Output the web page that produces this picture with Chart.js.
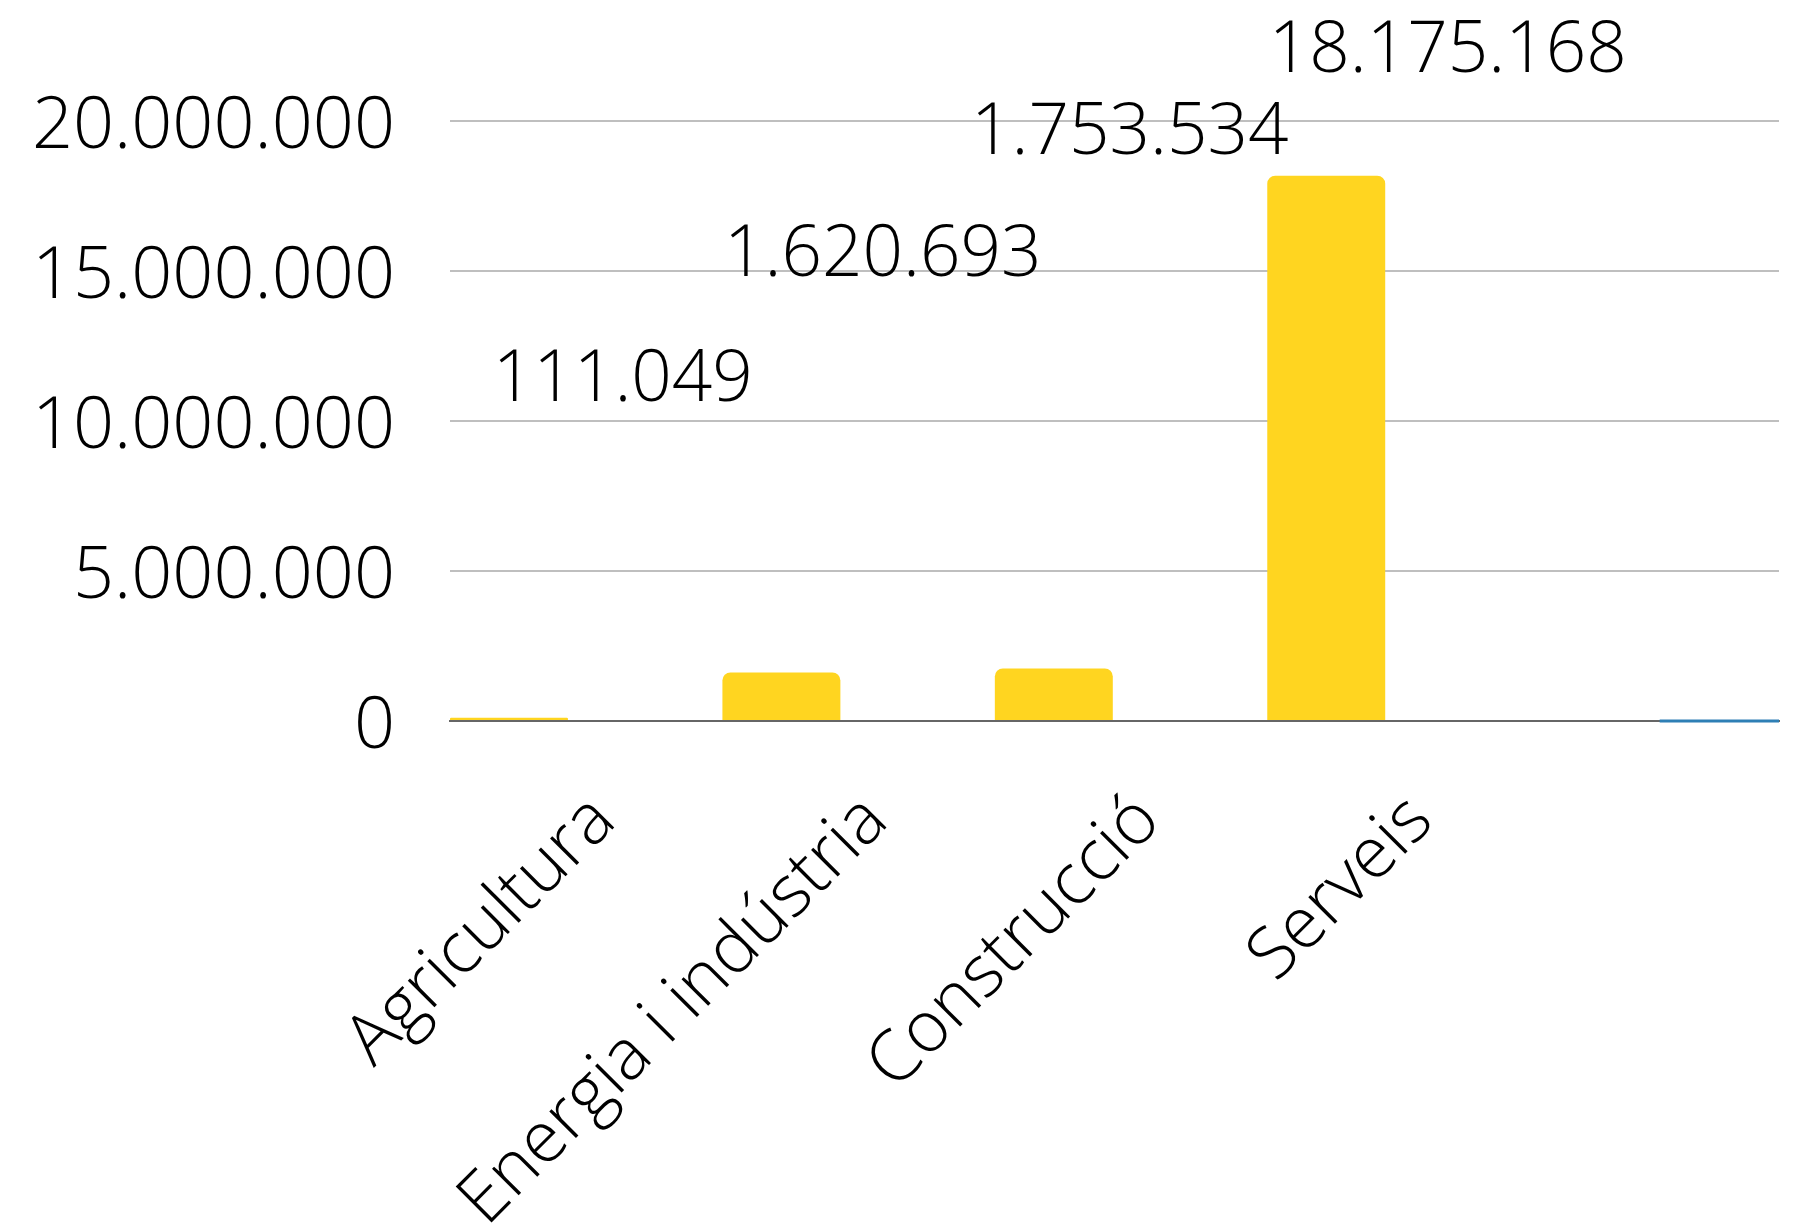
<!DOCTYPE html>
<html lang="ca">
<head>
<meta charset="utf-8">
<title>Sectors</title>
<script src="https://cdn.jsdelivr.net/npm/chart.js@4.4.1/dist/chart.umd.min.js"></script>
<style>
  html, body { margin: 0; padding: 0; background: #ffffff; }
  #wrap { width: 1795px; height: 1226px; position: relative; }
</style>
</head>
<body>
<div id="wrap"><canvas id="chart-sectors"></canvas></div>
<script>
// Dades
const categories = ['Agricultura', 'Energia i indústria', 'Construcció', 'Serveis'];
const values = [111049, 1620693, 1753534, 18175168];
const yTicks = [0, 5000000, 10000000, 15000000, 20000000];

// small blue segment sitting on the baseline at the right end
const blueSegment = [{ x: 4.224, y: 0 }, { x: 4.662, y: 0 }];

// where the value labels float (category units / value units)
const labelAtX = [0.418, 1.372, 2.279, 3.446];
const labelAtY = [11330000, 15500000, 19560000, 22300000];

const colors = {
  bar: '#FFD520',
  grid: '#BFBFBF',
  axis: '#666666',
  blue: '#2E7FB5',
  text: '#000000'
};

const FONT = '"Open Sans", "Noto Sans", sans-serif';

function formatCat(v) {
  return String(Math.round(v)).replace(/\B(?=(\d{3})+(?!\d))/g, '.');
}

// draws the floating value labels
const valueLabels = {
  id: 'valueLabels',
  afterDatasetsDraw(chart) {
    const ctx = chart.ctx;
    const xs = chart.scales.x;
    const ys = chart.scales.y;
    ctx.save();
    ctx.font = '300 71px ' + FONT;
    ctx.fillStyle = colors.text;
    ctx.textAlign = 'center';
    ctx.textBaseline = 'middle';
    values.forEach(function(v, i) {
      ctx.fillText(formatCat(v), xs.getPixelForValue(labelAtX[i]), ys.getPixelForValue(labelAtY[i]));
    });
    ctx.restore();
  }
};

function initChart() {
  const ctx = document.getElementById('chart-sectors');

  new Chart(ctx, {
    data: {
      datasets: [
        {
          type: 'bar',
          label: 'Sectors',
          data: values.map(function(v, i) { return { x: i, y: v }; }),
          backgroundColor: colors.bar,
          borderWidth: 0,
          borderRadius: 8,
          categoryPercentage: 1,
          barPercentage: 0.433,
          order: 2
        },
        {
          type: 'line',
          label: 'blau',
          data: blueSegment,
          borderColor: colors.blue,
          borderWidth: 3,
          pointRadius: 0,
          clip: false,
          order: 1
        }
      ]
    },
    plugins: [valueLabels],
    options: {
      responsive: true,
      maintainAspectRatio: false,
      animation: false,
      layout: {
        padding: { top: 121, right: 16, left: 0, bottom: 0 }
      },
      plugins: {
        legend: { display: false },
        tooltip: { enabled: false }
      },
      scales: {
        x: {
          type: 'linear',
          min: -0.2165,
          max: 4.662,
          offset: false,
          bounds: 'data',
          grid: { display: false, drawTicks: false, offset: false },
          border: { display: true, color: colors.axis, width: 2 },
          afterBuildTicks: function(scale) {
            scale.ticks = categories.map(function(c, i) { return { value: i }; });
          },
          afterFit: function(scale) { scale.height = 505; },
          ticks: {
            autoSkip: false,
            maxRotation: 45,
            minRotation: 45,
            padding: 58,
            labelOffset: 95,
            color: colors.text,
            font: { family: FONT, size: 71, weight: '300' },
            callback: function(value) { return categories[value] || ''; }
          }
        },
        y: {
          min: 0,
          max: 20000000,
          afterBuildTicks: function(scale) {
            scale.ticks = yTicks.map(function(v) { return { value: v }; });
          },
          afterFit: function(scale) { scale.width = 450; },
          grid: { color: colors.grid, lineWidth: 2, drawTicks: false },
          border: { display: false },
          ticks: {
            padding: 55,
            labelOffset: 6,
            color: colors.text,
            font: { family: FONT, size: 72, weight: '300' },
            callback: function(value) { return formatCat(value); }
          }
        }
      }
    }
  });
}

document.addEventListener('DOMContentLoaded', function() {
  initChart();
});
</script>
</body>
</html>
